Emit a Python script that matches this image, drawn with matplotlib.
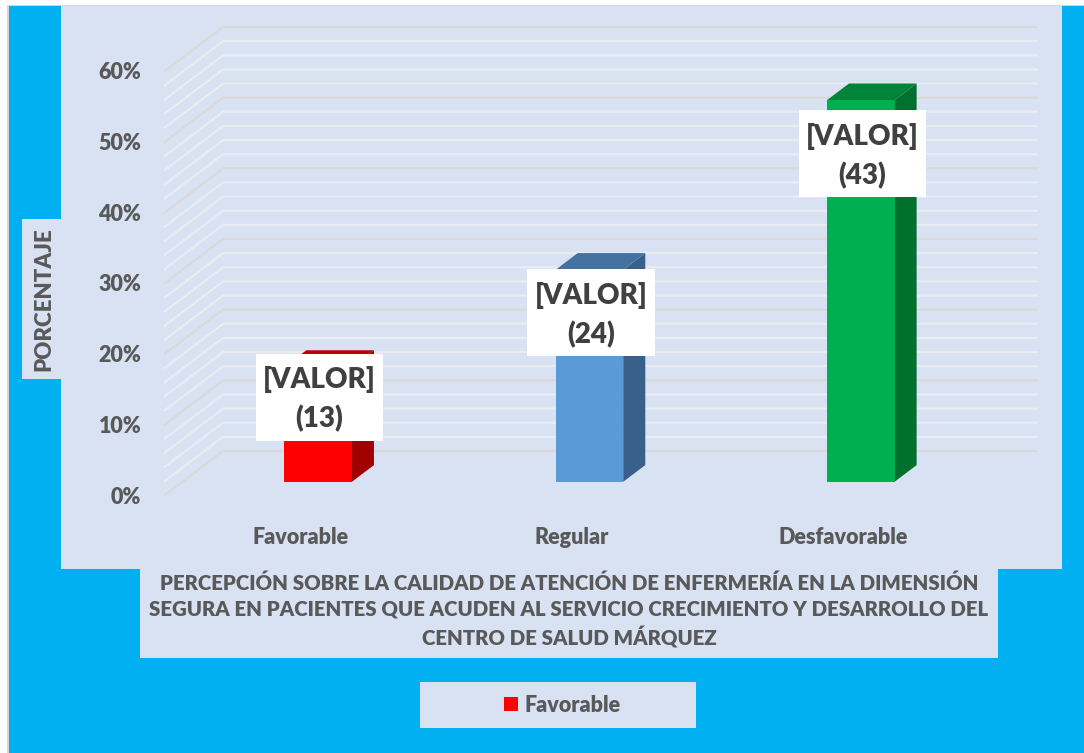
# bar chart with a fake 3D look, drawn on a normal axes
import matplotlib
matplotlib.use('Agg')
import matplotlib.pyplot as plt
from matplotlib.patches import Polygon, Rectangle, Patch

plt.rcParams['font.family'] = ['Lato', 'DejaVu Sans']

# data
categories = ['Favorable', 'Regular', 'Desfavorable']
percent = [16.25, 30, 54]
counts = [13, 24, 43]
y_ticks = [0, 10, 20, 30, 40, 50, 60]
y_labels = ['0%', '10%', '20%', '30%', '40%', '50%', '60%']
minor_grid = list(range(0, 62, 2))
front_colors = ['#FF0000', '#5B9BD5', '#00B050']
top_colors = ['#BE0000', '#44719F', '#00843A']
side_colors = ['#A00000', '#38608A', '#00702F']
label_y = [13.85, 25.8, 48.3]

W, H = 1084, 753
fig = plt.figure(figsize=(W / 100, H / 100), dpi=100, facecolor='white')


def box(x0, y0, x1, y1, color, z=1):
    fig.add_artist(Rectangle((x0 / W, 1 - y1 / H), (x1 - x0) / W, (y1 - y0) / H,
                             transform=fig.transFigure, facecolor=color,
                             edgecolor='none', zorder=z))


# background pieces
box(7, 5, W, H, '#D6D6D6', z=0)
box(8.5, 6, W, H, '#00B0F0', z=0)
box(61, 6, 1062, 569, '#D9E2F3', z=0)
box(22, 219, 61, 379, '#D9E2F3', z=0)
box(140, 569, 998, 658, '#D9E2F3', z=0)
box(420, 682, 696, 728, '#D9E2F3', z=0)

# axes = front plane of the 3D box
ax = fig.add_axes([165 / W, 1 - 495 / H, (979 - 165) / W, (495 - 71) / H])
ax.patch.set_alpha(0)
ax.set_xlim(-0.5, 2.5)
ax.set_ylim(0, 60)
for s in ax.spines.values():
    s.set_visible(False)

# depth of the box in data units
DX = 58 / 271
DY = 44 / 7.067
bar_w = 67.5 / 271
d0, d1 = 0.30, 0.68


def proj(x, y, d):
    return (x + d * DX, y + d * DY)


# grid on the side wall and back wall
for g in minor_grid:
    major = g % 10 == 0
    col = '#D9D9D9' if major else '#E9ECF1'
    ax.plot([-0.5, -0.5 + DX, 2.5 + DX], [g, g + DY, g + DY], color=col, lw=1.6,
            clip_on=False, zorder=1, solid_joinstyle='miter')

# bars
for i, v in enumerate(percent):
    l, r = i - bar_w / 2, i + bar_w / 2
    front = [proj(l, 0, d0), proj(r, 0, d0), proj(r, v, d0), proj(l, v, d0)]
    top = [proj(l, v, d0), proj(r, v, d0), proj(r, v, d1), proj(l, v, d1)]
    side = [proj(r, 0, d0), proj(r, 0, d1), proj(r, v, d1), proj(r, v, d0)]
    ax.add_patch(Polygon(side, facecolor=side_colors[i], edgecolor='none', clip_on=False, zorder=3))
    ax.add_patch(Polygon(top, facecolor=top_colors[i], edgecolor='none', clip_on=False, zorder=3))
    ax.add_patch(Polygon(front, facecolor=front_colors[i], edgecolor='none', clip_on=False, zorder=4))

# data labels
lab_w = 127 / 271
lab_h = 87 / 7.067
for i, n in enumerate(counts):
    cx = i + d0 * DX + 1.5 / 271
    ax.add_patch(Rectangle((cx - lab_w / 2, label_y[i] - lab_h / 2), lab_w, lab_h,
                           facecolor='white', edgecolor='none', clip_on=False, zorder=5))
    ax.text(cx, label_y[i] - 0.3, f'[VALOR]\n({n})', ha='center', va='center', fontsize=20,
            fontweight='heavy', color='#404040', zorder=6, linespacing=1.52)

# ticks
ax.set_yticks(y_ticks)
ax.set_yticklabels(y_labels, fontsize=15.5, fontweight='heavy', color='#595959')
ax.set_xticks(range(3))
ax.set_xticklabels(categories, fontsize=15.5, fontweight='heavy', color='#595959')
ax.tick_params(axis='both', length=0)
ax.tick_params(axis='y', pad=17)
ax.tick_params(axis='x', pad=23)

# axis titles
fig.text(43.5 / W, 1 - 299 / H, 'PORCENTAJE', rotation=90, ha='center', va='center',
         fontsize=16, fontweight='heavy', color='#595959')
fig.text(569 / W, 1 - 611 / H,
         'PERCEPCIÓN SOBRE LA CALIDAD DE ATENCIÓN DE ENFERMERÍA EN LA DIMENSIÓN\n'
         'SEGURA EN PACIENTES QUE ACUDEN AL SERVICIO CRECIMIENTO Y DESARROLLO DEL\n'
         'CENTRO DE SALUD MÁRQUEZ',
         ha='center', va='center', fontsize=14.7, fontweight='heavy', color='#595959',
         linespacing=1.42)

# legend
leg = fig.legend(handles=[Patch(facecolor=front_colors[0], label=categories[0])],
                 loc='center', bbox_to_anchor=(562 / W, 1 - 705 / H), frameon=False,
                 prop={'size': 15.5, 'weight': 'heavy'}, handlelength=0.65, handleheight=0.65,
                 handletextpad=0.3, labelcolor='#595959')

fig.savefig('out.png', dpi=100)
